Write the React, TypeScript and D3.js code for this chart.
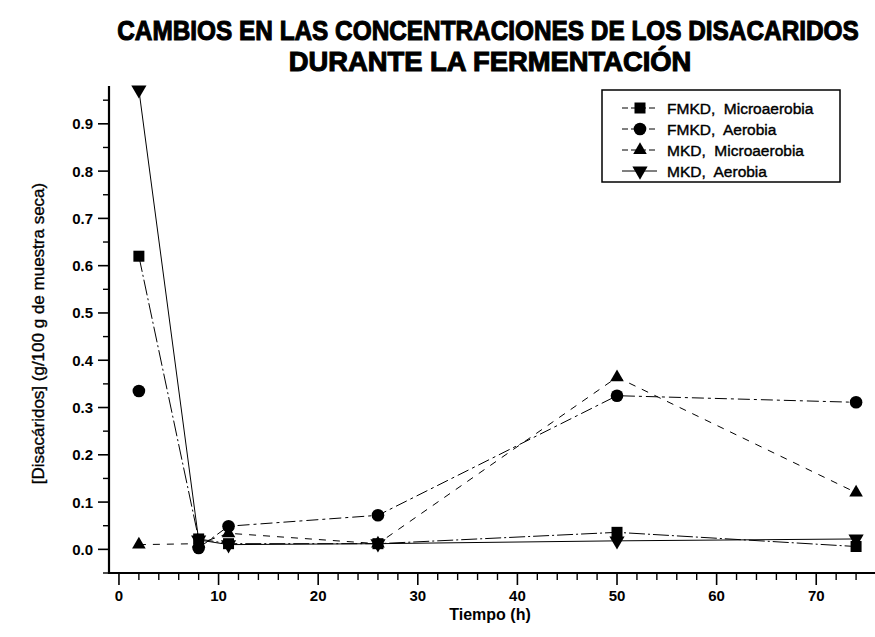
import React from "react";
import * as d3 from "d3";

// Sampling times (h)
const hours = [2, 8, 11, 26, 50, 74];

// Disaccharide concentration, g/100 g dry sample
const fmkdMicroaerobia = [0.62, 0.022, 0.012, 0.012, 0.036, 0.006];
const fmkdAerobia = [0.335, 0.003, 0.049, 0.072, 0.325, 0.311];
const mkdMicroaerobia = [0.01, 0.012, 0.034, 0.012, 0.364, 0.12];
const mkdAerobia = [0.972, 0.02, 0.01, 0.012, 0.018, 0.022];

const seriesLabels = [
  "FMKD,  Microaerobia",
  "FMKD,  Aerobia",
  "MKD,  Microaerobia",
  "MKD,  Aerobia",
];

const xTickValues = [0, 10, 20, 30, 40, 50, 60, 70];
const yTickValues = [0, 0.1, 0.2, 0.3, 0.4, 0.5, 0.6, 0.7, 0.8, 0.9];

const titleLines = [
  "CAMBIOS EN LAS CONCENTRACIONES DE LOS DISACARIDOS",
  "DURANTE LA FERMENTACIÓN",
];
const xTitle = "Tiempo (h)";
const yTitle = "[Disacáridos] (g/100 g de muestra seca)";

const W = 875;
const H = 637;
const left = 109;
const bottom = 573;
const top = 86;

const x = d3.scaleLinear().domain([-1, 76]).range([left, 876]);
const y = d3.scaleLinear().domain([-0.05, 0.98]).range([bottom, top]);

type Marker = "square" | "circle" | "triangle" | "triangleDown";

const series = [
  { values: fmkdMicroaerobia, marker: "square" as Marker, dash: "16,3,2,3", from: 0 },
  { values: fmkdAerobia, marker: "circle" as Marker, dash: "12,4,3,4", from: 1 },
  { values: mkdMicroaerobia, marker: "triangle" as Marker, dash: "7,7", from: 0 },
  { values: mkdAerobia, marker: "triangleDown" as Marker, dash: "none", from: 0 },
];

function markerPath(m: Marker): string {
  const sym =
    m === "square"
      ? d3.symbol(d3.symbolSquare, 121)
      : m === "circle"
      ? d3.symbol(d3.symbolCircle, 125)
      : m === "triangle"
      ? d3.symbol(d3.symbolTriangle, 80)
      : d3.symbol(d3.symbolTriangle, 100);
  return sym() as string;
}

function MarkerShape({ m, cx, cy }: { m: Marker; cx: number; cy: number }) {
  const rot = m === "triangleDown" ? 180 : 0;
  return (
    <path
      d={markerPath(m)}
      transform={`translate(${cx},${cy}) rotate(${rot})`}
      fill="#000"
    />
  );
}

// Condensed heavy title lines: [center x, baseline y, horizontal squeeze]
const titleLayout: [number, number, number][] = [
  [488, 40, 0.855],
  [490, 71, 0.96],
];

export default function App() {
  const line = d3
    .line<[number, number]>()
    .x((d) => x(d[0]))
    .y((d) => y(d[1]));

  const xMinor = d3.range(0, 77, 2).filter((v) => v % 10 !== 0);
  const yMinor = d3.range(-0.05, 0.96, 0.1).map((v) => +v.toFixed(2));

  const tickFont = {
    fontFamily: "'Liberation Sans', Arial, sans-serif",
    fontWeight: 700,
    fontSize: 15,
  } as const;

  return (
    <svg
      width={W}
      height={H}
      style={{ position: "absolute", left: 0, top: 0, background: "#fff" }}
    >
      <rect width={W} height={H} fill="#fff" />

      {/* title */}
      {titleLines.map((t, i) => {
        const [cx, by, sx] = titleLayout[i];
        return (
          <text
            key={t}
            transform={`translate(${cx},${by}) scale(${sx},1)`}
            textAnchor="middle"
            fontFamily="'Liberation Sans', Arial, sans-serif"
            fontWeight={700}
            fontSize={28.5}
            stroke="#000"
            strokeWidth={1.1}
            fill="#000"
          >
            {t}
          </text>
        );
      })}

      {/* series lines */}
      {series.map((s, i) => {
        const pts = hours
          .map((h, j) => [h, s.values[j]] as [number, number])
          .slice(s.from);
        return (
          <path
            key={i}
            d={line(pts) as string}
            fill="none"
            stroke="#000"
            strokeWidth={1}
            strokeDasharray={s.dash}
          />
        );
      })}

      {/* markers */}
      {series.map((s, i) =>
        hours.map((h, j) => (
          <MarkerShape key={`${i}-${j}`} m={s.marker} cx={x(h)} cy={y(s.values[j])} />
        ))
      )}

      {/* axes */}
      <line x1={left} x2={left} y1={top} y2={bottom + 1} stroke="#000" strokeWidth={2.2} />
      <line x1={left - 1} x2={W} y1={bottom} y2={bottom} stroke="#000" strokeWidth={2.2} />

      {xTickValues.map((v) => (
        <g key={`xt${v}`}>
          <line x1={x(v)} x2={x(v)} y1={bottom} y2={bottom + 12} stroke="#000" strokeWidth={1.6} />
          <text x={x(v)} y={bottom + 28} textAnchor="middle" {...tickFont}>
            {v}
          </text>
        </g>
      ))}
      {xMinor.map((v) => (
        <line key={`xm${v}`} x1={x(v)} x2={x(v)} y1={bottom} y2={bottom + 7} stroke="#000" strokeWidth={1.4} />
      ))}

      {yTickValues.map((v) => (
        <g key={`yt${v}`}>
          <line x1={left - 11} x2={left} y1={y(v)} y2={y(v)} stroke="#000" strokeWidth={1.6} />
          <text x={93} y={y(v) + 5.5} textAnchor="end" {...tickFont}>
            {d3.format(".1f")(v)}
          </text>
        </g>
      ))}
      {yMinor.map((v) => (
        <line key={`ym${v}`} x1={left - 6} x2={left} y1={y(v)} y2={y(v)} stroke="#000" strokeWidth={1.4} />
      ))}

      {/* axis titles */}
      <text x={490} y={620} textAnchor="middle" {...tickFont} fontSize={16}>
        {xTitle}
      </text>
      <text
        transform={`translate(44,${(top + bottom) / 2 + 4}) rotate(-90)`}
        textAnchor="middle"
        {...tickFont}
        fontWeight={400}
        fontSize={17}
        stroke="#000"
        strokeWidth={0.35}
      >
        {yTitle}
      </text>

      {/* legend */}
      <rect x={602} y={90} width={238} height={92} fill="#fff" stroke="#000" strokeWidth={1.5} />
      {series.map((s, i) => {
        const ly = 108 + i * 21;
        return (
          <g key={`lg${i}`}>
            <line x1={622} x2={657} y1={ly} y2={ly} stroke="#000" strokeWidth={1} strokeDasharray={s.dash === "none" ? "none" : "6,3"} />
            <MarkerShape m={s.marker} cx={640} cy={ly} />
            <text
              x={667}
              y={ly + 5.5}
              fontFamily="'Liberation Sans', Arial, sans-serif"
              fontSize={15.5}
              stroke="#000"
              strokeWidth={0.4}
              style={{ whiteSpace: "pre" }}
            >
              {seriesLabels[i]}
            </text>
          </g>
        );
      })}
    </svg>
  );
}
